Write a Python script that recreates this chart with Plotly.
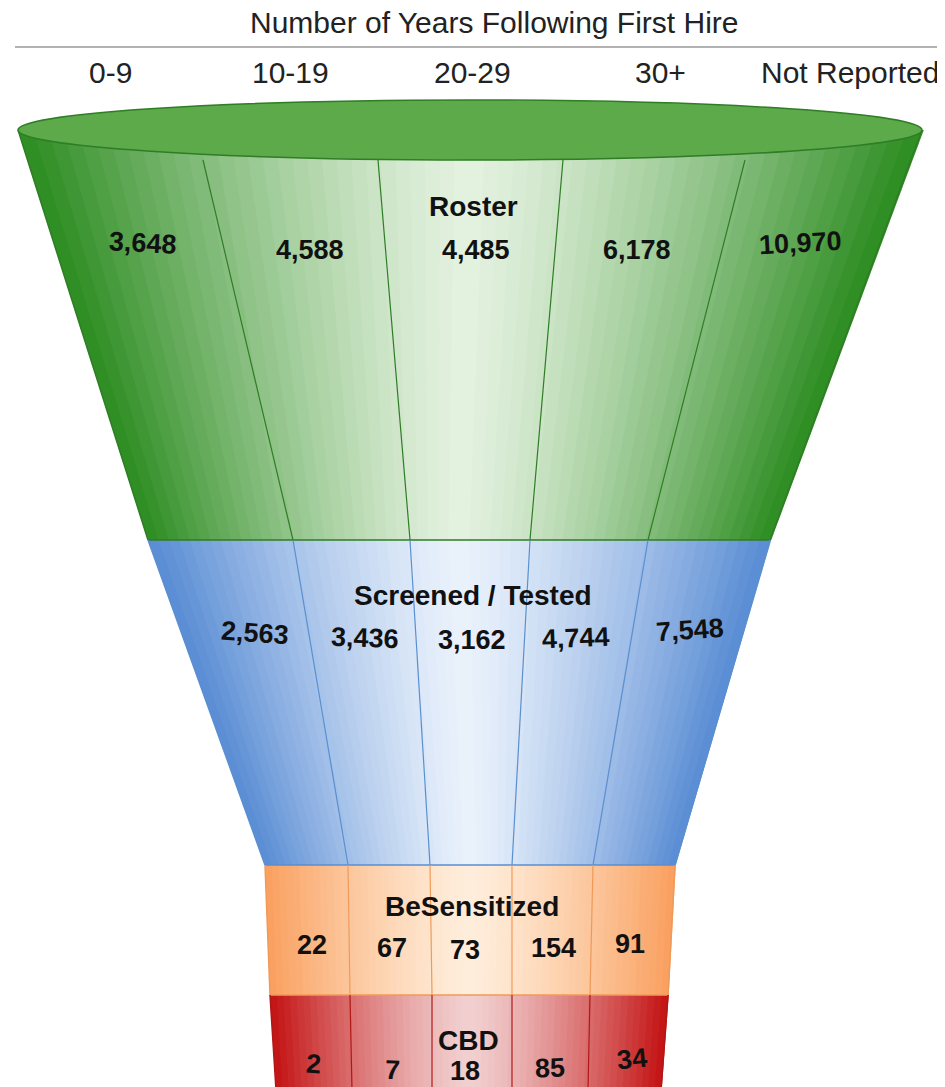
import plotly.graph_objects as go

# data
categories = ["0-9", "10-19", "20-29", "30+", "Not Reported"]
stages = ["Roster", "Screened / Tested", "BeSensitized", "CBD"]
roster = [3648, 4588, 4485, 6178, 10970]
screened = [2563, 3436, 3162, 4744, 7548]
besensitized = [22, 67, 73, 154, 91]
cbd = [2, 7, 18, 85, 34]
values = [roster, screened, besensitized, cbd]

# funnel geometry (pixel space)
levels = [130, 540, 865, 995, 1090]
left_edge = [18, 148, 265, 270, 276]
right_edge = [922, 770, 675, 668, 661]
dividers = [
    [203, 378, 563, 745],
    [293, 410, 530, 648],
    [348, 430, 512, 593],
    [350, 432, 512, 590],
    [352, 432, 512, 588],
]
edge_rgb = [(44, 140, 32), (88, 140, 212), (250, 160, 95), (196, 18, 18)]
mid_rgb = [(228, 242, 224), (234, 242, 252), (255, 238, 220), (242, 208, 208)]
line_rgb = ["#2f7d25", "#5a8fd0", "#f09a5a", "#b01818"]

stage_label_pos = [(473, 206), (473, 595), (472, 906), (468, 1040)]
value_pos = [
    [(143, 243), (310, 250), (476, 250), (637, 250), (800, 243)],
    [(255, 633), (365, 638), (472, 640), (576, 638), (690, 630)],
    [(312, 945), (392, 948), (465, 950), (553, 948), (630, 944)],
    [(313, 1064), (392, 1070), (465, 1071), (550, 1068), (632, 1059)],
]
value_angle = [[3, 0, 0, 0, -3], [4, 2, 0, -2, -4], [0, 0, 0, 0, 0], [4, 2, 0, -2, -6]]
cat_x = [110, 290, 472, 660, 850]

shapes = []
n = 60
for s in range(4):
    yt, yb = levels[s], levels[s + 1]
    lt, rt = left_edge[s], right_edge[s]
    lb, rb = left_edge[s + 1], right_edge[s + 1]
    for i in range(n):
        t0, t1 = i / n, (i + 1) / n
        tm = (t0 + t1) / 2
        w = abs(tm - 0.5) * 2
        w = w ** 1.3
        c = tuple(int(mid_rgb[s][k] + (edge_rgb[s][k] - mid_rgb[s][k]) * w) for k in range(3))
        x0t, x1t = lt + (rt - lt) * t0, lt + (rt - lt) * (t1 + 0.002)
        x0b, x1b = lb + (rb - lb) * t0, lb + (rb - lb) * (t1 + 0.002)
        shapes.append(dict(type="path", xref="x", yref="y",
                           path=f"M{x0t},{yt} L{x1t},{yt} L{x1b},{yb} L{x0b},{yb} Z",
                           fillcolor=f"rgb{c}", line=dict(width=0), layer="below"))
    # outline
    shapes.append(dict(type="path", xref="x", yref="y",
                       path=f"M{lt},{yt} L{lb},{yb} M{rt},{yt} L{rb},{yb} M{lb},{yb} L{rb},{yb}",
                       line=dict(color=line_rgb[s], width=1.5)))
    for d in range(4):
        shapes.append(dict(type="line", xref="x", yref="y",
                           x0=dividers[s][d], y0=yt + (30 if s == 0 else 0),
                           x1=dividers[s + 1][d], y1=yb,
                           line=dict(color=line_rgb[s], width=1.2)))

# top ellipse
shapes.append(dict(type="circle", xref="x", yref="y", x0=18, x1=922, y0=100, y1=160,
                   fillcolor="rgb(92,170,74)", line=dict(color="#2f7d25", width=1.5)))
# header rule
shapes.append(dict(type="line", xref="x", yref="y", x0=15, x1=945, y0=47, y1=47,
                   line=dict(color="#999999", width=1.5)))

font_family = "Liberation Sans, Arial"
annotations = [dict(x=494, y=22, text="Number of Years Following First Hire", showarrow=False,
                    font=dict(size=30, color="#222222", family=font_family))]
for cx, cat in zip(cat_x, categories):
    annotations.append(dict(x=cx, y=72, text=cat, showarrow=False,
                            font=dict(size=30, color="#222222", family=font_family)))
for s in range(4):
    annotations.append(dict(x=stage_label_pos[s][0], y=stage_label_pos[s][1], text=f"<b>{stages[s]}</b>",
                            showarrow=False, font=dict(size=28, color="#111111", family=font_family)))
    for v, (px_, py_), ang in zip(values[s], value_pos[s], value_angle[s]):
        annotations.append(dict(x=px_, y=py_, text=f"<b>{v:,}</b>", showarrow=False, textangle=ang,
                                font=dict(size=27, color="#111111", family=font_family)))

fig = go.Figure()
fig.add_trace(go.Scatter(x=[8, 953], y=[8, 1095], mode="markers", marker=dict(opacity=0),
                         hoverinfo="skip", showlegend=False))
fig.update_layout(
    width=945, height=1087, margin=dict(l=0, r=0, t=0, b=0),
    plot_bgcolor="white", paper_bgcolor="white",
    xaxis=dict(range=[8, 953], visible=False, fixedrange=True),
    yaxis=dict(range=[1095, 8], visible=False, fixedrange=True),
    shapes=shapes, annotations=annotations, showlegend=False,
)
fig.write_html("out.html")
